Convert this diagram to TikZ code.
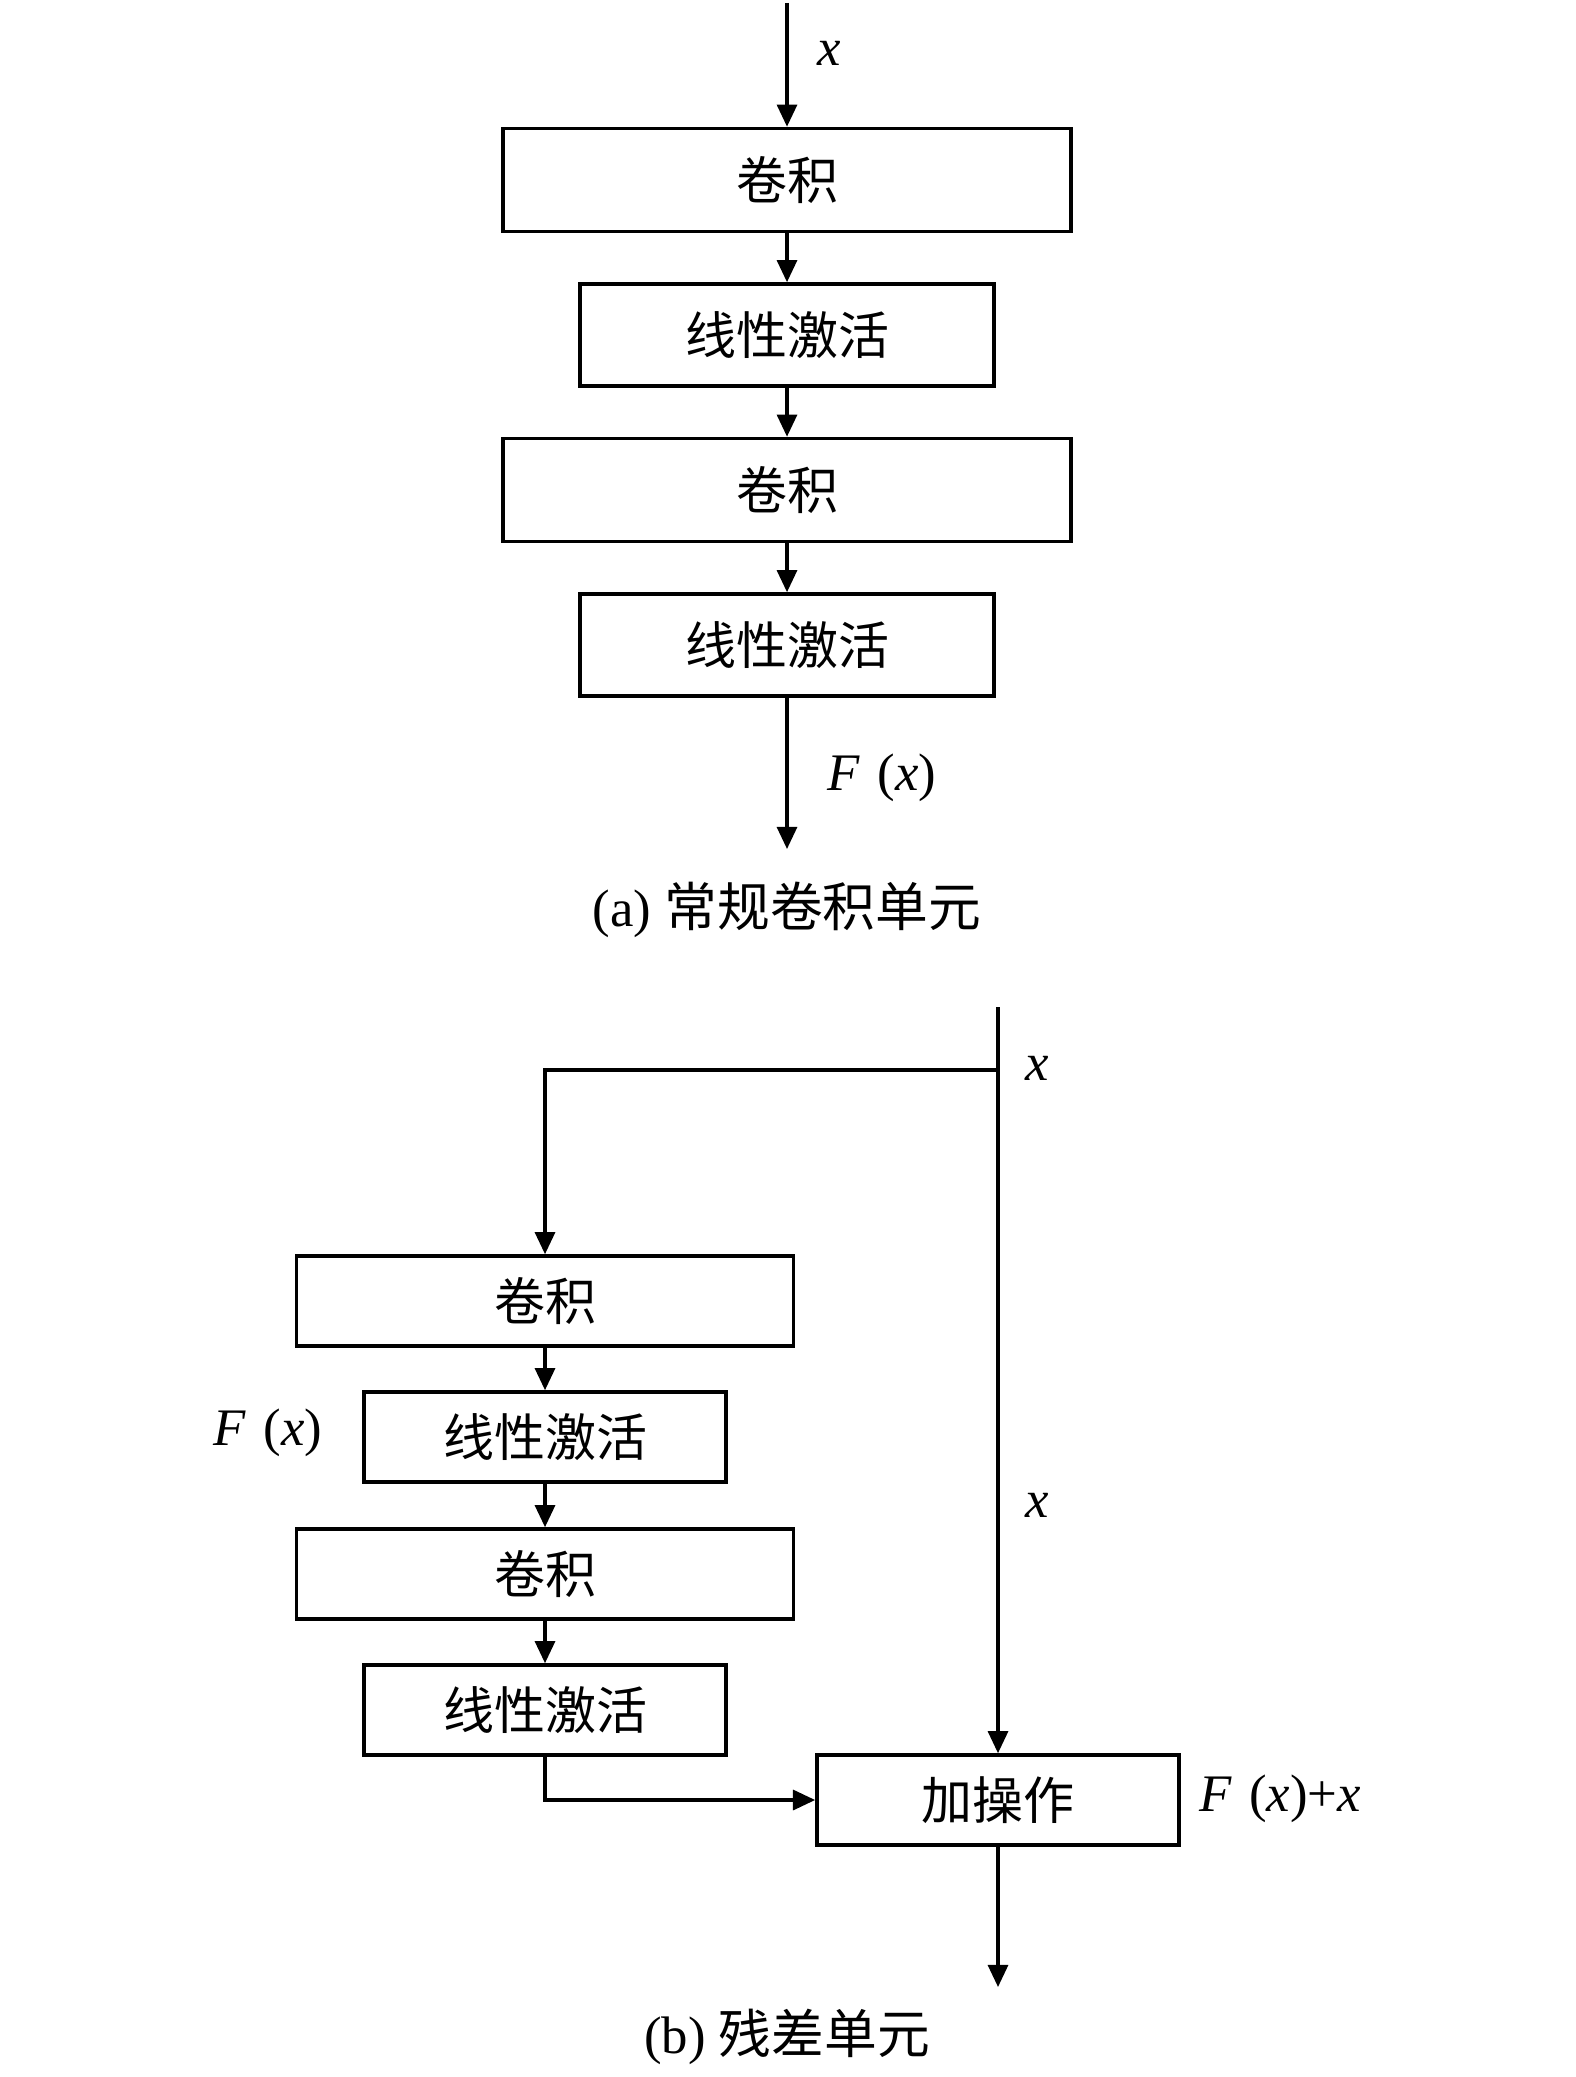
\documentclass[tikz,border=0pt]{standalone}
\usepackage{fontspec}
\setmainfont{Liberation Serif}
\newfontfamily\cjk{Noto Sans CJK SC}
\usetikzlibrary{arrows.meta}

\begin{document}
\begin{tikzpicture}[
		x=0.01cm, y=-0.01cm,
		every path/.style={line width=0.9pt},
		box/.style={draw, line width=1pt, inner sep=0pt, font=\fontsize{14.5}{17}\selectfont\cjk},
		wide/.style={box, minimum width=5.68cm, minimum height=1.03cm},
		narrow/.style={box, minimum width=4.14cm, minimum height=1.02cm},
		bwide/.style={box, minimum width=4.97cm, minimum height=0.9cm},
		bnarrow/.style={box, minimum width=3.62cm, minimum height=0.9cm},
		flow/.style={-{Triangle[length=6.3pt,width=5.7pt]}},
		lbl/.style={font=\fontsize{15}{17}\selectfont}
	]
	\useasboundingbox (0, 0) rectangle (1575, 2077);

	% (a) plain unit
	\coordinate (ain) at (787, 3);
	\node[wide] (a1) at (787, 180) {卷积};
	\node[narrow] (a2) at (787, 335) {线性激活};
	\node[wide] (a3) at (787, 490) {卷积};
	\node[narrow] (a4) at (787, 645) {线性激活};
	\coordinate (aout) at (787, 849);

	\draw[flow] (ain) -- (a1);
	\draw[flow] (a1) -- (a2);
	\draw[flow] (a2) -- (a3);
	\draw[flow] (a3) -- (a4);
	\draw[flow] (a4) -- (aout);

	\node[lbl] (ax) at (829, 53) {\textit{x}};
	\node[lbl] (afx) at (882, 778) {\textit{F}\,\,(\textit{x})};
	\node[lbl] (acap) at (787, 910) {(a) {\cjk 常规卷积单元}};

	% (b) residual unit
	\coordinate (bin) at (998, 1007);
	\coordinate (split) at (998, 1070);
	\node[bwide] (b1) at (545, 1301) {卷积};
	\node[bnarrow] (b2) at (545, 1437) {线性激活};
	\node[bwide] (b3) at (545, 1574) {卷积};
	\node[bnarrow] (b4) at (545, 1710) {线性激活};
	\node[bnarrow] (add) at (998, 1800) {加操作};
	\coordinate (bout) at (998, 1987);

	\draw[flow] (bin) -- (add);
	\draw[flow] (split) -| (b1);
	\draw[flow] (b1) -- (b2);
	\draw[flow] (b2) -- (b3);
	\draw[flow] (b3) -- (b4);
	\draw[flow] (b4) |- (add);
	\draw[flow] (add) -- (bout);

	\node[lbl] (bx1) at (1037, 1068) {\textit{x}};
	\node[lbl] (bx2) at (1037, 1505) {\textit{x}};
	\node[lbl] (bfx) at (268, 1433) {\textit{F}\,\,(\textit{x})};
	\node[lbl] (bsum) at (1280, 1799) {\textit{F}\,\,(\textit{x})+\textit{x}};
	\node[lbl] (bcap) at (787, 2037) {(b) {\cjk 残差单元}};
\end{tikzpicture}
\end{document}
